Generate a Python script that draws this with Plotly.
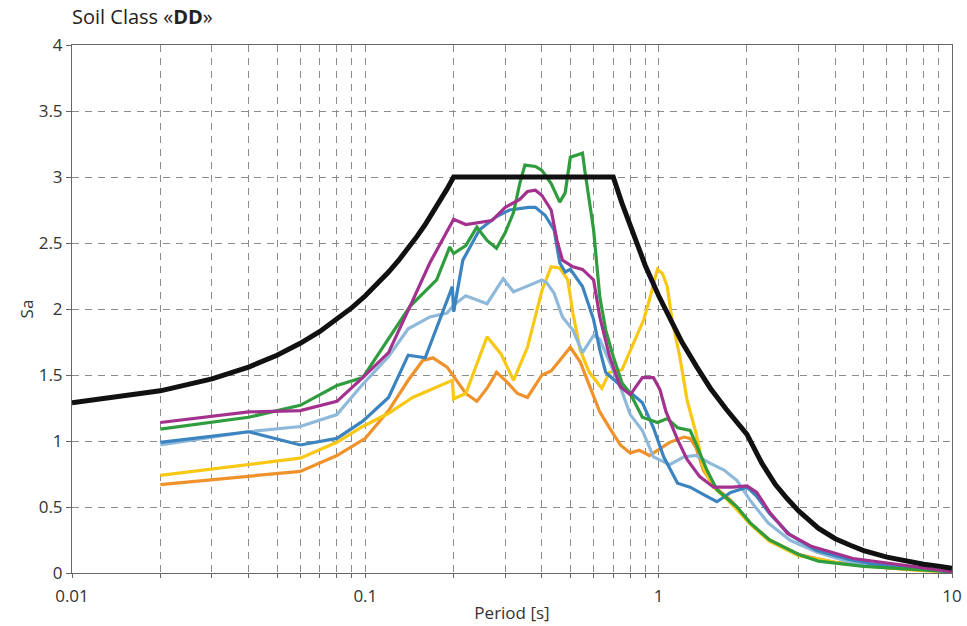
import plotly.graph_objects as go

# Design (code) spectrum - black
code_T = [0.01, 0.02, 0.03, 0.04, 0.05, 0.06, 0.07, 0.08, 0.09, 0.1, 0.11, 0.12, 0.13, 0.14,
          0.15, 0.16, 0.17, 0.18, 0.19, 0.2, 0.7, 0.75, 0.8, 0.85, 0.9, 1.0, 1.1, 1.2, 1.35, 1.5,
          1.7, 1.85, 2.0, 2.25, 2.5, 2.75, 3.0, 3.5, 4.0, 4.5, 5.0, 6.0, 7.0, 8.0, 9.0, 10.0]
code_Sa = [1.29, 1.38, 1.47, 1.56, 1.65, 1.74, 1.83, 1.92, 2.01, 2.1, 2.19, 2.28, 2.37, 2.46,
           2.55, 2.64, 2.73, 2.82, 2.91, 3.0, 3.0, 2.8, 2.63, 2.47, 2.33, 2.1, 1.91, 1.75, 1.56,
           1.4, 1.24, 1.14, 1.05, 0.83, 0.67, 0.56, 0.47, 0.34, 0.26, 0.21, 0.17, 0.12, 0.086,
           0.066, 0.052, 0.035]

green_T = [0.02, 0.04, 0.06, 0.08, 0.098, 0.142, 0.175, 0.194, 0.2, 0.22, 0.24, 0.26, 0.28, 0.30,
           0.32, 0.336, 0.35, 0.38, 0.40, 0.43, 0.46, 0.48, 0.50, 0.55, 0.56, 0.60, 0.63, 0.66,
           0.70, 0.75, 0.80, 0.88, 0.99, 1.07, 1.16, 1.28, 1.34, 1.46, 1.58, 1.85, 2.05, 2.39,
           3.0, 3.5, 5.0, 8.0, 10.0]
green_Sa = [1.09, 1.18, 1.27, 1.42, 1.48, 2.02, 2.22, 2.47, 2.42, 2.48, 2.62, 2.52, 2.46, 2.58,
            2.73, 2.95, 3.09, 3.08, 3.05, 2.95, 2.81, 2.88, 3.15, 3.18, 3.05, 2.6, 2.09, 1.84,
            1.64, 1.44, 1.36, 1.18, 1.14, 1.17, 1.10, 1.08, 0.98, 0.78, 0.63, 0.50, 0.38, 0.25,
            0.14, 0.09, 0.05, 0.02, 0.01]

purple_T = [0.02, 0.04, 0.06, 0.08, 0.098, 0.12, 0.142, 0.166, 0.2, 0.22, 0.27, 0.30, 0.336,
            0.357, 0.38, 0.40, 0.43, 0.45, 0.47, 0.51, 0.55, 0.60, 0.63, 0.68, 0.74, 0.80, 0.88,
            0.96, 1.01, 1.06, 1.16, 1.25, 1.38, 1.54, 1.79, 2.0, 2.16, 2.39, 2.75, 3.33, 4.6,
            6.8, 10.0]
purple_Sa = [1.14, 1.22, 1.23, 1.30, 1.48, 1.67, 2.02, 2.35, 2.68, 2.64, 2.67, 2.77, 2.83,
             2.89, 2.90, 2.86, 2.75, 2.52, 2.37, 2.32, 2.30, 2.22, 1.94, 1.64, 1.41, 1.35, 1.48,
             1.48, 1.39, 1.22, 1.01, 0.86, 0.73, 0.65, 0.65, 0.66, 0.61, 0.46, 0.30, 0.20, 0.11,
             0.06, 0.01]

blue_T = [0.02, 0.04, 0.06, 0.08, 0.098, 0.12, 0.14, 0.16, 0.198, 0.2, 0.215, 0.245, 0.28,
          0.31, 0.36, 0.38, 0.41, 0.44, 0.46, 0.48, 0.50, 0.55, 0.60, 0.63, 0.66, 0.74, 0.80,
          0.88, 0.96, 1.04, 1.16, 1.28, 1.46, 1.58, 1.76, 2.0, 2.16, 2.39, 2.8, 3.45, 4.5, 5.3,
          7.8, 10.0]
blue_Sa = [0.99, 1.07, 0.97, 1.02, 1.15, 1.33, 1.65, 1.63, 2.17, 1.98, 2.37, 2.60, 2.70, 2.75,
           2.77, 2.77, 2.71, 2.60, 2.35, 2.28, 2.30, 2.17, 1.92, 1.69, 1.52, 1.42, 1.37, 1.29,
           1.10, 0.88, 0.68, 0.65, 0.58, 0.54, 0.61, 0.65, 0.58, 0.45, 0.29, 0.17, 0.10, 0.07,
           0.03, 0.01]

lblue_T = [0.02, 0.04, 0.06, 0.08, 0.098, 0.12, 0.14, 0.166, 0.19, 0.2, 0.22, 0.26, 0.295,
           0.32, 0.345, 0.40, 0.415, 0.44, 0.47, 0.51, 0.55, 0.60, 0.63, 0.68, 0.74, 0.80, 0.88,
           0.96, 1.09, 1.22, 1.34, 1.50, 1.67, 1.85, 2.05, 2.36, 2.8, 3.45, 4.5, 7.8, 10.0]
lblue_Sa = [0.97, 1.07, 1.11, 1.20, 1.43, 1.64, 1.85, 1.94, 1.97, 2.03, 2.10, 2.04, 2.23,
            2.13, 2.16, 2.22, 2.20, 2.12, 1.94, 1.84, 1.67, 1.80, 1.77, 1.60, 1.41, 1.20, 1.08,
            0.88, 0.82, 0.88, 0.89, 0.83, 0.78, 0.70, 0.55, 0.38, 0.25, 0.16, 0.08, 0.03, 0.01]

yellow_T = [0.02, 0.04, 0.06, 0.08, 0.098, 0.12, 0.145, 0.198, 0.2, 0.22, 0.26, 0.29, 0.32,
            0.357, 0.40, 0.43, 0.46, 0.49, 0.51, 0.54, 0.58, 0.64, 0.68, 0.75, 0.81, 0.89, 0.93,
            0.99, 1.03, 1.07, 1.11, 1.18, 1.25, 1.34, 1.42, 1.54, 1.67, 1.85, 2.05, 2.39, 3.0,
            4.0, 5.3, 7.8, 10.0]
yellow_Sa = [0.74, 0.82, 0.87, 0.99, 1.11, 1.21, 1.33, 1.46, 1.32, 1.36, 1.79, 1.66, 1.46,
             1.71, 2.14, 2.32, 2.31, 2.22, 1.97, 1.69, 1.52, 1.40, 1.52, 1.54, 1.71, 1.92, 2.07,
             2.30, 2.27, 2.17, 1.92, 1.64, 1.31, 1.06, 0.80, 0.65, 0.58, 0.48, 0.37, 0.24, 0.13,
             0.08, 0.05, 0.02, 0.01]

orange_T = [0.02, 0.04, 0.06, 0.08, 0.1, 0.12, 0.14, 0.157, 0.17, 0.19, 0.205, 0.22, 0.24,
            0.26, 0.28, 0.30, 0.33, 0.357, 0.40, 0.43, 0.46, 0.50, 0.54, 0.58, 0.63, 0.68, 0.74,
            0.80, 0.86, 0.93, 1.01, 1.09, 1.22, 1.28, 1.34, 1.42, 1.54, 1.76, 2.05, 2.39, 3.0,
            4.0, 5.3, 7.8, 10.0]
orange_Sa = [0.67, 0.73, 0.77, 0.89, 1.02, 1.23, 1.46, 1.61, 1.63, 1.56, 1.46, 1.36, 1.30,
             1.40, 1.52, 1.46, 1.36, 1.33, 1.50, 1.53, 1.61, 1.71, 1.60, 1.42, 1.22, 1.10, 0.97,
             0.91, 0.93, 0.89, 0.94, 0.99, 1.03, 1.02, 0.95, 0.78, 0.66, 0.55, 0.38, 0.25, 0.14,
             0.08, 0.05, 0.02, 0.01]

x_tickvals = [0.01, 0.1, 1, 10]
x_ticktext = ["0.01", "0.1", "1", "10"]

series = [
    (orange_T, orange_Sa, "#f0922c"),
    (yellow_T, yellow_Sa, "#f8c814"),
    (lblue_T, lblue_Sa, "#8fb9da"),
    (blue_T, blue_Sa, "#3b84c0"),
    (green_T, green_Sa, "#2f9c3e"),
    (purple_T, purple_Sa, "#a3318e"),
]

fig = go.Figure()
for t, s, c in series:
    fig.add_trace(go.Scatter(x=t, y=s, mode="lines", line=dict(color=c, width=3.2),
                             showlegend=False, hoverinfo="skip"))
fig.add_trace(go.Scatter(x=code_T, y=code_Sa, mode="lines",
                         line=dict(color="#111111", width=5),
                         showlegend=False, hoverinfo="skip"))

grid = dict(gridcolor="#8c8c8c", griddash="7px,6px", gridwidth=1)
fig.update_layout(
    width=967, height=626,
    margin=dict(l=72, r=15, t=45, b=53, autoexpand=False),
    paper_bgcolor="white", plot_bgcolor="white",
    font=dict(family="Open Sans", size=17, color="#333333"),
    title=dict(text="Soil Class «<b>DD</b>»", x=0, xref="paper", xanchor="left",
               y=0.973, yref="container", yanchor="middle",
               font=dict(size=20, color="#222222", family="Open Sans")),
    xaxis=dict(type="log", range=[-2, 1], tickvals=x_tickvals, ticktext=x_ticktext,
               automargin=False,
               showgrid=True, **grid, showline=True, linecolor="#666666", linewidth=1,
               mirror=True, ticks="outside", ticklen=4, tickcolor="#666666",
               zeroline=False, ticklabelstandoff=4,
               minor=dict(dtick="D1", showgrid=True, gridcolor="#8c8c8c",
                          griddash="7px,6px", gridwidth=1, ticks="outside", ticklen=4,
                          tickcolor="#666666"),
               title=dict(text="Period [s]", standoff=0, font=dict(size=17))),
    yaxis=dict(range=[0, 4], dtick=0.5, showgrid=True, **grid, showline=True,
               automargin=False,
               linecolor="#666666", linewidth=1, mirror=True, ticks="outside",
               ticklen=5, tickcolor="#666666", zeroline=False,
               title=dict(text="Sa", standoff=0, font=dict(size=17))),
)

fig.write_html("out.html")
